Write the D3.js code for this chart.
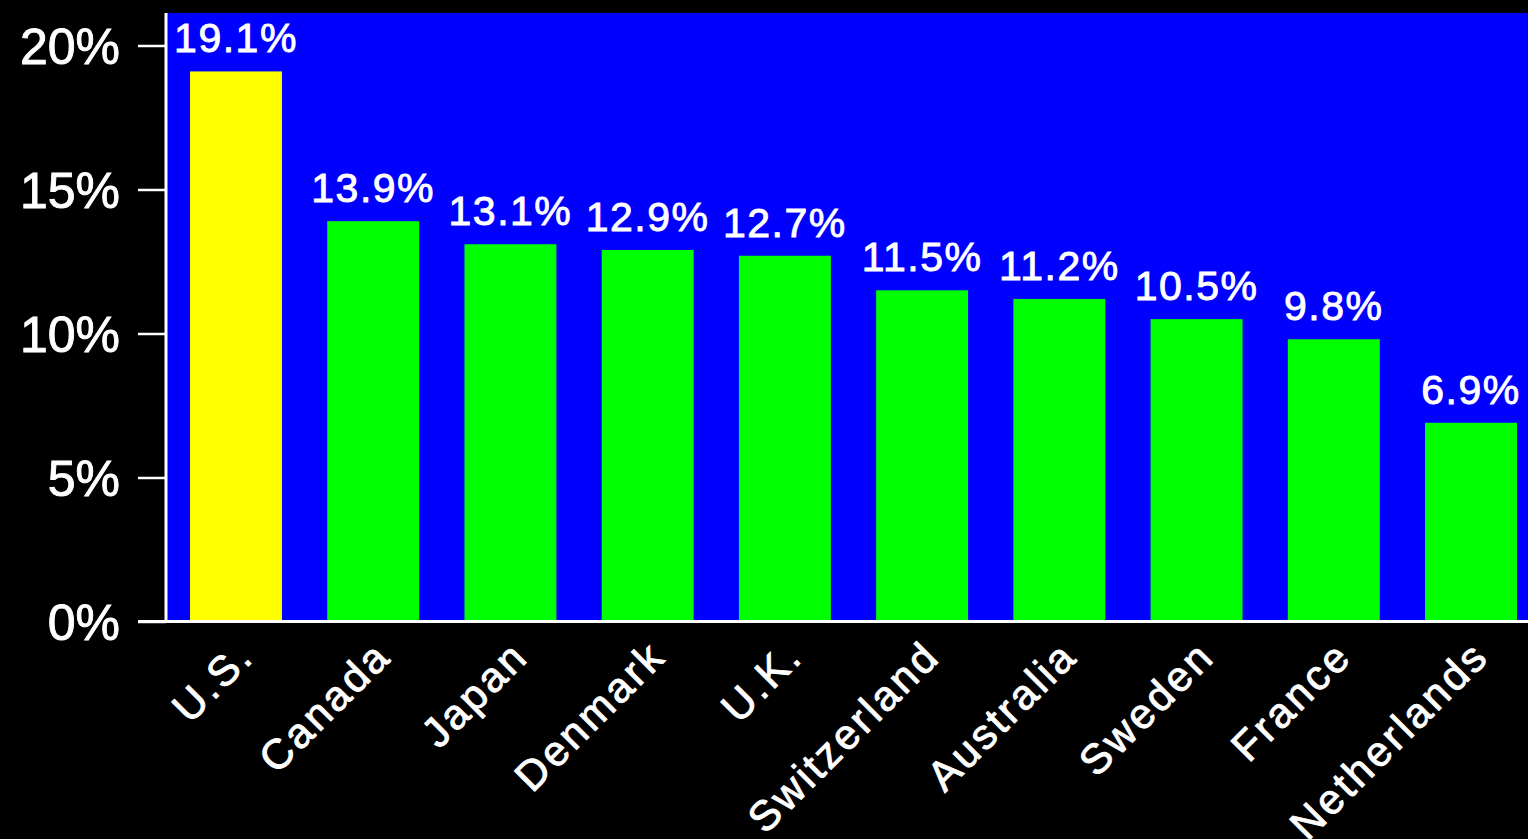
<!DOCTYPE html>
<html>
<head>
<meta charset="utf-8">
<script src="https://cdn.jsdelivr.net/npm/d3@7"></script>
<style>
  html, body { margin: 0; padding: 0; background: #000; }
  svg { display: block; }
  text { font-family: "Liberation Sans", Arial, sans-serif; fill: #fff; stroke: #fff; stroke-width: 0.9px; }
</style>
</head>
<body>
<svg id="chart" width="1528" height="839"></svg>
<script>
// Share values by country, in percent
const countries = ["U.S.", "Canada", "Japan", "Denmark", "U.K.", "Switzerland",
                   "Australia", "Sweden", "France", "Netherlands"];
const shares = [19.1, 13.9, 13.1, 12.9, 12.7, 11.5, 11.2, 10.5, 9.8, 6.9];
const highlight = ["U.S."];
const yTicks = [0, 5, 10, 15, 20];

const W = 1528, H = 839;
const plot = { left: 166, top: 13, bottom: 621.5 };

const svg = d3.select("#chart");

const x = d3.scaleBand()
  .domain(countries)
  .range([plot.left, 1541])
  .paddingInner(0.33)
  .paddingOuter(0.175);

const y = d3.scaleLinear()
  .domain([0, 20])
  .range([plot.bottom, 45.5]);

// blue plotting area
svg.append("rect")
  .attr("x", plot.left).attr("y", plot.top)
  .attr("width", W - plot.left).attr("height", plot.bottom - plot.top)
  .attr("fill", "#0000ff");

// bars
svg.append("g").selectAll("rect")
  .data(countries)
  .join("rect")
  .attr("x", d => x(d))
  .attr("width", x.bandwidth())
  .attr("y", (d, i) => y(shares[i]))
  .attr("height", (d, i) => y(0) - y(shares[i]))
  .attr("fill", d => highlight.includes(d) ? "#ffff00" : "#00ff00");

// value labels above bars
svg.append("g").selectAll("text")
  .data(countries)
  .join("text")
  .attr("x", d => x(d) + x.bandwidth() / 2)
  .attr("y", (d, i) => y(shares[i]) - 19)
  .attr("text-anchor", "middle")
  .style("font-size", "41px")
  .style("letter-spacing", "1.5px")
  .text((d, i) => shares[i].toFixed(1) + "%");

// y axis
const yAxis = d3.axisLeft(y)
  .tickValues(yTicks)
  .tickSize(28)
  .tickPadding(18)
  .tickFormat(d => d + "%");

const gy = svg.append("g")
  .attr("transform", `translate(${plot.left},0)`)
  .call(yAxis);
gy.select(".domain").remove();
gy.selectAll(".tick line").attr("stroke", "#fff").attr("stroke-width", 2.5);
gy.selectAll(".tick text")
  .attr("fill", "#fff")
  .style("font-family", "'Liberation Sans', Arial, sans-serif")
  .style("font-size", "50px")
  .attr("dy", "0.36em");

// axis lines
svg.append("line")
  .attr("x1", plot.left).attr("x2", plot.left)
  .attr("y1", plot.top).attr("y2", plot.bottom)
  .attr("stroke", "#fff").attr("stroke-width", 3);
svg.append("line")
  .attr("x1", plot.left - 28).attr("x2", W)
  .attr("y1", plot.bottom).attr("y2", plot.bottom)
  .attr("stroke", "#fff").attr("stroke-width", 3);

// category labels, rotated
const xAxis = d3.axisBottom(x).tickSize(0).tickPadding(0);
const gx = svg.append("g")
  .attr("transform", `translate(0,${plot.bottom})`)
  .call(xAxis);
gx.select(".domain").remove();
gx.selectAll(".tick text")
  .attr("fill", "#fff")
  .style("font-family", "'Liberation Sans', Arial, sans-serif")
  .style("font-size", "42px")
  .style("letter-spacing", "3px")
  .attr("text-anchor", "end")
  .attr("dy", null)
  .attr("transform", "translate(20,37) rotate(-45)");
</script>
</body>
</html>
